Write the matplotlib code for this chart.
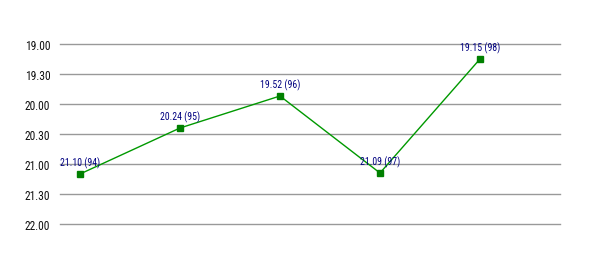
import matplotlib
matplotlib.use("Agg")
import matplotlib.pyplot as plt
from matplotlib.ticker import FixedLocator

# Times in minutes.seconds, with year labels
years = ["94", "95", "96", "97", "98"]
times = ["21.10", "20.24", "19.52", "21.09", "19.15"]
tick_labels = ["19.00", "19.30", "20.00", "20.30", "21.00", "21.30", "22.00"]

def to_minutes(s):
    m, sec = s.split(".")
    return int(m) + int(sec) / 60.0

vals = [to_minutes(t) for t in times]
tick_vals = [to_minutes(t) for t in tick_labels]

plt.rcParams['font.family'] = ['Roboto Condensed', 'Archivo Narrow', 'Liberation Sans', 'DejaVu Sans']

fig = plt.figure(figsize=(6.0, 2.55), dpi=100)
ax = fig.add_axes([0.1, 1 - 225/255, 0.8333, (225-45)/255])

x = list(range(len(vals)))
ax.plot(x, vals, color="#009900", lw=1.0, marker="s", ms=5,
        mfc="#008000", mec="#008000", zorder=3)
for xi, v, t, y in zip(x, vals, times, years):
    ax.annotate(f"{t} ({y})", (xi, v), xytext=(0, 4), textcoords="offset points",
                ha="center", va="bottom", fontsize=7, color="#000080", zorder=4)

ax.set_xlim(-0.2, 4.8)
ax.set_ylim(22.0, 19.0)
ax.yaxis.set_major_locator(FixedLocator(tick_vals))
ax.set_yticklabels(tick_labels)
ax.set_xticks([])
ax.grid(axis="y", color="#999999", lw=1.0)
for gl in ax.get_ygridlines():
    gl.set_clip_on(False)
ax.set_axisbelow(True)
for s in ax.spines.values():
    s.set_visible(False)
ax.tick_params(axis="y", length=0, pad=7, labelsize=8.3, labelcolor="#111111")

fig.savefig("out.png", dpi=100)
